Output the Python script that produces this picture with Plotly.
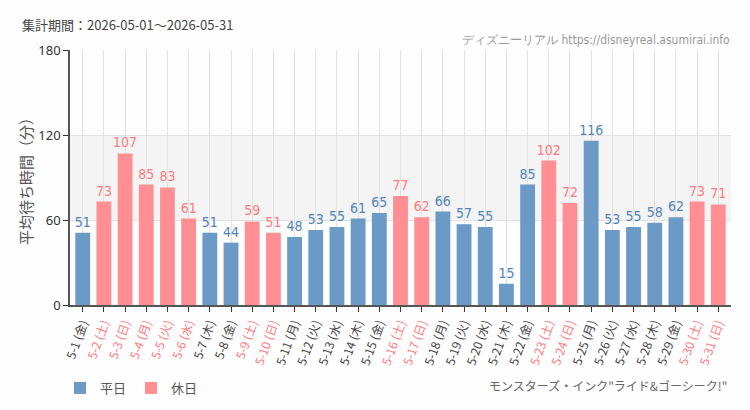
import plotly.graph_objects as go

dates = [f"5-{d}" for d in range(1, 32)]
weekdays = ["金","土","日","月","火","水","木","金","土","日","月","火","水","木","金","土","日",
            "月","火","水","木","金","土","日","月","火","水","木","金","土","日"]
values = [51,73,107,85,83,61,51,44,59,51,48,53,55,61,65,77,62,66,57,55,15,85,102,72,116,53,55,58,62,73,71]
holiday = [0,1,1,1,1,1,0,0,1,1,0,0,0,0,0,1,1,0,0,0,0,0,1,1,0,0,0,0,0,1,1]
yticks = [0, 60, 120, 180]

BLUE = "#6b9ac6"
PINK = "#ff8f93"
BLUE_T = "#4f84ba"
PINK_T = "#ff7a80"
NARROW = "DejaVu Sans Condensed, Liberation Sans Narrow, Arial Narrow, sans-serif"

fig = go.Figure()
cats = list(range(len(dates)))
ticktext = []
for d, w, h in zip(dates, weekdays, holiday):
    col = PINK_T if h else "#444444"
    ticktext.append(f'<span style="color:{col}">{d} ({w})</span>')

for name, flag, col, tcol in [("平日", 0, BLUE, BLUE_T), ("休日", 1, PINK, PINK_T)]:
    xs = [c for c, h in zip(cats, holiday) if h == flag]
    ys = [v for v, h in zip(values, holiday) if h == flag]
    fig.add_trace(go.Bar(
        x=xs, y=ys, name=name, marker=dict(color=col, line=dict(width=0)),
        text=[str(v) for v in ys], textposition="outside", constraintext="none",
        textfont=dict(color=tcol, size=14, family=NARROW),
        cliponaxis=False, width=0.7,
    ))

fig.add_hrect(y0=60, y1=120, fillcolor="#f3f4f3", line_width=0, layer="below")

pw = 750 - 70 - 19
ph = 410 - 50 - 105
def px(x): return (x - 70) / pw
def py(y): return (410 - 105 - y) / ph

fig.update_layout(
    width=750, height=410,
    margin=dict(l=70, r=19, t=50, b=105, autoexpand=False),
    paper_bgcolor="#fdfefd", plot_bgcolor="#fdfefd",
    barmode="overlay",
    font=dict(family="Noto Sans CJK JP, sans-serif", color="#444444", size=12),
    showlegend=True,
    legend=dict(orientation="h", x=px(60), y=py(373), xanchor="left", yanchor="top",
                font=dict(size=13, color="#555555"), itemwidth=30, traceorder="normal"),
    xaxis=dict(
        tickmode="array", tickvals=cats, ticktext=ticktext, tickangle=-70,
        range=[-0.6, len(dates) - 0.4], automargin=False,
        showgrid=True, gridcolor="#e2e2e2", gridwidth=1,
        ticks="outside", ticklen=5, tickcolor="#333333",
        showline=True, linecolor="#555555", linewidth=1.5,
        tickfont=dict(size=12, family="Noto Sans CJK JP, sans-serif"),
    ),
    yaxis=dict(
        range=[0, 180], tickvals=yticks, showgrid=True, gridcolor="#e2e2e2",
        ticks="outside", ticklen=5, tickcolor="#333333", automargin=False,
        showline=True, linecolor="#555555", linewidth=1.5,
        tickfont=dict(size=13, color="#333333", family="Noto Sans, sans-serif"),
        title=dict(text="平均待ち時間（分）", font=dict(size=15, color="#555555"), standoff=2),
        zeroline=False,
    ),
)

fig.add_annotation(text="集計期間：2026-05-01～2026-05-31", x=px(20), y=py(25), xref="paper", yref="paper",
                   showarrow=False, xanchor="left", yanchor="middle", font=dict(size=13, color="#444444"))
fig.add_annotation(text="ディズニーリアル https://disneyreal.asumirai.info", x=px(732), y=py(40),
                   xref="paper", yref="paper", showarrow=False, xanchor="right", yanchor="middle",
                   font=dict(size=12, color="#999999", family=NARROW))
fig.add_annotation(text='モンスターズ・インク"ライド&ゴーシーク!"', x=px(729), y=py(385),
                   xref="paper", yref="paper", showarrow=False, xanchor="right", yanchor="middle",
                   font=dict(size=12, color="#666666"))

fig.write_html("out.html")
